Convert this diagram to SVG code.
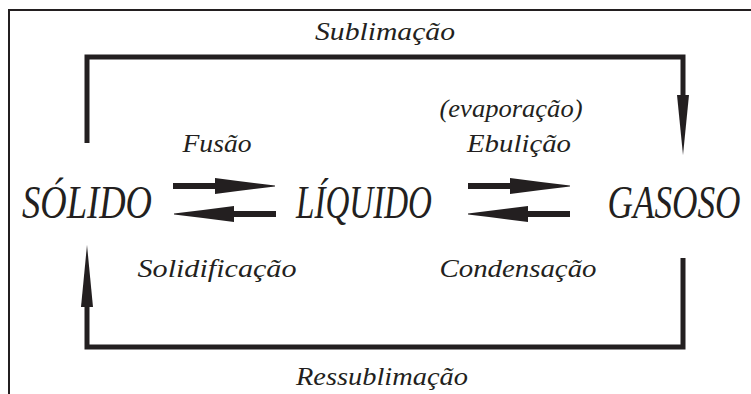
<svg xmlns="http://www.w3.org/2000/svg" xmlns:xlink="http://www.w3.org/1999/xlink" width="751" height="394" viewBox="0 0 751 394">
<style>
text{font-family:"Liberation Serif","DejaVu Serif",serif;font-style:italic;fill:#231f20;text-anchor:middle}
.s{font-size:26px}
.b{font-size:36px}
.loop{fill:none;stroke:#231f20;stroke-width:5}
.frame{fill:none;stroke:#231f20;stroke-width:2}
.ah{fill:#231f20}
</style>
<defs>
<path id="rarrow" d="M0,-3 H42 V-8 Q72,-4 102,-0.5 V0.5 Q72,4 42,8 V3 H0 Z" fill="#231f20"/>
</defs>
<path class="frame" d="M9,394 V10 H751"/>
<g id="connectors">
<path class="loop" d="M87,143 V57 H683 V100"/>
<polygon class="ah" points="677,95 689,95 683,155"/>
<path class="loop" d="M683,258 V347 H87 V302"/>
<polygon class="ah" points="81,307 93,307 87,245"/>
<use xlink:href="#rarrow" transform="translate(173,186)"/>
<use xlink:href="#rarrow" transform="translate(276,214) scale(-1,1)"/>
<use xlink:href="#rarrow" transform="translate(468,186)"/>
<use xlink:href="#rarrow" transform="translate(570,214) scale(-1,1)"/>
</g>
<g id="solido" transform="translate(87,218) scale(1,1.3)"><text class="b" x="0" y="0" textLength="130" lengthAdjust="spacingAndGlyphs">SÓLIDO</text></g>
<g id="liquido" transform="translate(364,218) scale(1,1.3)"><text class="b" x="0" y="0" textLength="136" lengthAdjust="spacingAndGlyphs">LÍQUIDO</text></g>
<g id="gasoso" transform="translate(674,218) scale(1,1.3)"><text class="b" x="0" y="0" textLength="133" lengthAdjust="spacingAndGlyphs">GASOSO</text></g>
<g id="labels">
<text class="s" x="385" y="40" textLength="140" lengthAdjust="spacingAndGlyphs">Sublimação</text>
<text class="s" x="511" y="117" textLength="143" lengthAdjust="spacingAndGlyphs">(evaporação)</text>
<text class="s" x="519" y="152" textLength="104" lengthAdjust="spacingAndGlyphs">Ebulição</text>
<text class="s" x="217" y="152" textLength="69" lengthAdjust="spacingAndGlyphs">Fusão</text>
<text class="s" x="217" y="277" textLength="159" lengthAdjust="spacingAndGlyphs">Solidificação</text>
<text class="s" x="518" y="277" textLength="157" lengthAdjust="spacingAndGlyphs">Condensação</text>
<text class="s" x="382" y="385" textLength="172" lengthAdjust="spacingAndGlyphs">Ressublimação</text>
</g>
</svg>
